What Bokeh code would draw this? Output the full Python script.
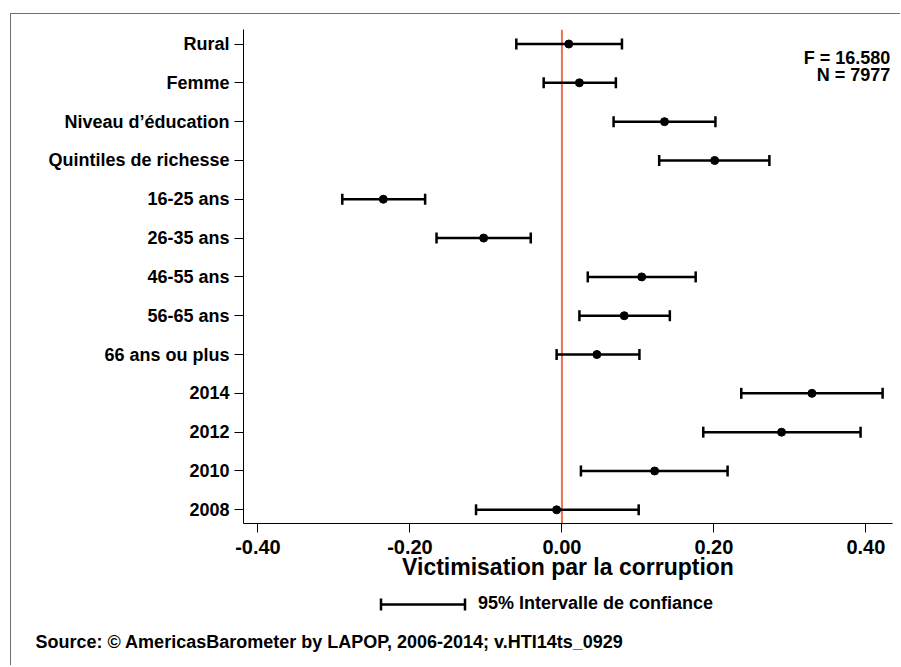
from bokeh.plotting import figure
from bokeh.layouts import column
from bokeh.models import (ColumnDataSource, Range1d, FixedTicker, Span, Whisker, TeeHead,
                          Legend, LegendItem, Label, Title, NumeralTickFormatter)
from bokeh.embed import file_html
from bokeh.resources import INLINE

# ---- data -----------------------------------------------------------------
categories = ["Rural", "Femme", "Niveau d’éducation", "Quintiles de richesse",
              "16-25 ans", "26-35 ans", "46-55 ans", "56-65 ans", "66 ans ou plus",
              "2014", "2012", "2010", "2008"]
coef = [0.009, 0.023, 0.135, 0.201, -0.235, -0.103, 0.105, 0.082, 0.046,
        0.329, 0.289, 0.122, -0.007]
ci_low = [-0.060, -0.024, 0.068, 0.128, -0.289, -0.165, 0.034, 0.023, -0.007,
          0.236, 0.186, 0.025, -0.113]
ci_high = [0.079, 0.071, 0.202, 0.273, -0.180, -0.041, 0.176, 0.142, 0.102,
           0.422, 0.393, 0.218, 0.101]
x_ticks = [-0.4, -0.2, 0.0, 0.2, 0.4]
stat_f = "F = 16.580"
stat_n = "N = 7977"
x_title = "Victimisation par la corruption"
legend_label = "95% Intervalle de confiance"
source_note = "Source: © AmericasBarometer by LAPOP, 2006-2014; v.HTI14ts_0929"

n = len(categories)
ypos = [n - i for i in range(n)]

FONT = "Liberation Sans"
X_RANGE = (-0.419, 0.435)

src = ColumnDataSource(dict(y=ypos, coef=coef, lo=ci_low, hi=ci_high))

# ---- main chart -------------------------------------------------------------
p = figure(frame_width=649, frame_height=494, output_backend="svg", toolbar_location=None,
           x_range=Range1d(*X_RANGE), y_range=Range1d(0.647, 13.374),
           min_border_left=232, min_border_top=15, min_border_right=8,
           min_border_bottom=62, tools="")
p.outline_line_color = None
p.xgrid.visible = False
p.ygrid.visible = False
p.background_fill_color = "white"
p.border_fill_color = "white"

# zero reference line
p.add_layout(Span(location=0, dimension="height", line_color="#EC7151",
                  line_width=2, level="underlay"))

# confidence intervals
head = dict(size=11, line_width=2.5, line_color="black")
p.add_layout(Whisker(source=src, base="y", lower="lo", upper="hi", dimension="width",
                     line_color="black", line_width=2.5,
                     lower_head=TeeHead(**head), upper_head=TeeHead(**head)))
p.scatter(x="coef", y="y", source=src, size=8, color="black")

# axes
p.xaxis.ticker = FixedTicker(ticks=x_ticks)
p.xaxis.formatter = NumeralTickFormatter(format="0.00")
p.yaxis.ticker = FixedTicker(ticks=ypos)
p.yaxis.major_label_overrides = {y: c for y, c in zip(ypos, categories)}
for ax in (p.xaxis[0], p.yaxis[0]):
    ax.axis_line_color = "black"
    ax.axis_line_width = 1
    ax.major_tick_line_color = "black"
    ax.major_tick_out = 9
    ax.major_tick_in = 0
    ax.minor_tick_line_color = None
    ax.major_label_text_font = FONT
    ax.major_label_text_font_style = "bold"
    ax.major_label_text_color = "black"
p.yaxis.major_label_text_font_size = "18px"
p.yaxis.major_label_standoff = 5
p.xaxis.major_label_text_font_size = "20px"
p.xaxis.major_label_standoff = 7
p.xaxis.axis_label = x_title
p.xaxis.axis_label_text_font = FONT
p.xaxis.axis_label_text_font_style = "bold"
p.xaxis.axis_label_text_font_size = "23px"
p.xaxis.axis_label_text_color = "black"
p.xaxis.axis_label_standoff = -3

# statistics
p.add_layout(Label(x=0.432, y=12.652, text=stat_f, text_align="right", text_baseline="middle",
                   text_font=FONT, text_font_style="bold", text_font_size="18px",
                   text_color="black"))
p.add_layout(Label(x=0.432, y=12.21, text=stat_n, text_align="right", text_baseline="middle",
                   text_font=FONT, text_font_style="bold", text_font_size="18px",
                   text_color="black"))

# ---- footer: legend key and source note --------------------------------------
f = figure(frame_width=649, frame_height=40, output_backend="svg", toolbar_location=None,
           tools="", x_range=Range1d(*X_RANGE), y_range=Range1d(100, 101),
           x_axis_type=None, y_axis_type=None,
           min_border_left=232, min_border_right=8, min_border_top=0, min_border_bottom=40)
f.outline_line_color = None
f.xgrid.visible = False
f.ygrid.visible = False
f.background_fill_color = "white"
f.border_fill_color = "white"

# legend key renderers use the CI data (off-frame here); only their legend glyph shows
key_line = f.segment(x0="lo", y0="y", x1="hi", y1="y", source=src, line_color="black",
                     line_width=2.5, line_dash="0 10 85 10")
key_caps = f.quad(left="lo", right="hi", top="y", bottom="y", source=src, fill_color=None,
                  line_color="black", line_width=2.5, line_dash="0 86 12 88 12 2")
legend = Legend(items=[LegendItem(label=legend_label, renderers=[key_line, key_caps])],
                location=(127, 11), orientation="horizontal",
                glyph_width=105, glyph_height=20, label_standoff=3, label_height=20,
                padding=0, margin=0, spacing=0,
                border_line_color=None, background_fill_color=None,
                label_text_font=FONT, label_text_font_style="bold",
                label_text_font_size="18px", label_text_color="black")
f.add_layout(legend)

f.add_layout(Title(text=source_note, align="left", offset=-208, standoff=8,
                   text_font=FONT, text_font_style="bold", text_font_size="18px",
                   text_color="black"), "below")

page = column(p, f, spacing=0)
page.styles = {"border-left": "1px solid #707070", "border-top": "1px solid #707070"}
page.margin = (13, 0, 0, 10)

open("out.html", "w").write(file_html(page, INLINE))
